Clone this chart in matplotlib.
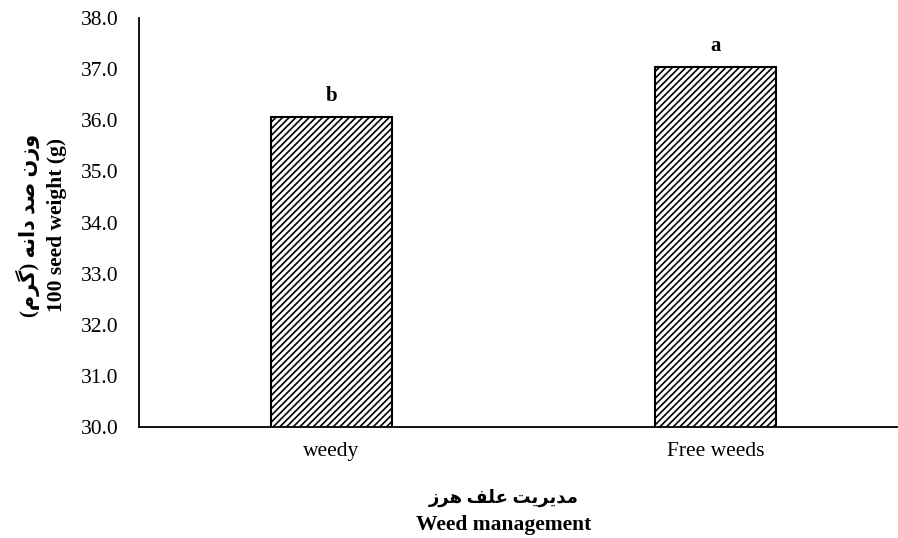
import numpy as np
import matplotlib.pyplot as plt

plt.rcParams['font.family'] = ['Liberation Serif', 'DejaVu Sans']
plt.rcParams['hatch.linewidth'] = 1.2
plt.rcParams['hatch.color'] = '#2a2a2a'

treatments = ['weedy', 'Free weeds']
seed_weight = [36.06, 37.04]
groups = ['b', 'a']
yticks = np.arange(30, 38.01, 1.0)

# persian labels, already shaped and in visual order
ylab_fa = ('(\uFEE1\uFEAE\uFB94) \uFEEA\uFEE7\uFE8D\uFEA9 '
           '\uFEAA\uFEBB \uFEE5\uFEAF\uFEED')
xlab_fa = ('\uFEAF\uFEAE\uFEEB \uFED2\uFEE0\uFECB '
           '\uFE96\uFBFE\uFEAE\uFBFE\uFEAA\uFEE3')

fig = plt.figure(figsize=(8.98, 5.38), dpi=100)
ax = fig.add_axes([0.1548, 0.2063, 0.8563, 0.7602])

x = np.arange(len(treatments))
bars = ax.bar(x, seed_weight, width=0.315, bottom=0, color='white',
              edgecolor='black', linewidth=1.5, hatch='/////')

for xi, v, g in zip(x, seed_weight, groups):
    ax.text(xi, v + 0.31, g, ha='center', va='baseline', fontsize=15,
            fontweight='bold')

ax.set_xlim(-0.5, 1.5)
ax.set_ylim(30, 38)
ax.set_yticks(yticks)
ax.set_yticklabels(['%.1f' % t for t in yticks], fontsize=15.5)
ax.set_xticks(x)
ax.set_xticklabels(treatments, fontsize=15.5)
ax.tick_params(length=0)
ax.tick_params(axis='x', pad=11)
ax.tick_params(axis='y', pad=15)

for s in ['top', 'right']:
    ax.spines[s].set_visible(False)
for s in ['left', 'bottom']:
    ax.spines[s].set_linewidth(1.3)

fig.text(0.031, 0.582, ylab_fa, rotation=90, ha='center', va='center',
         fontsize=15, fontweight='bold')
fig.text(0.063, 0.582, '100 seed weight (g)', rotation=90, ha='center',
         va='center', fontsize=15.5, fontweight='bold')
fig.text(0.561, 0.074, xlab_fa, ha='center', va='center', fontsize=13,
         fontweight='bold')
fig.text(0.561, 0.0149, 'Weed management', ha='center', va='baseline',
         fontsize=15.5, fontweight='bold')

fig.savefig('out.png', dpi=100)
